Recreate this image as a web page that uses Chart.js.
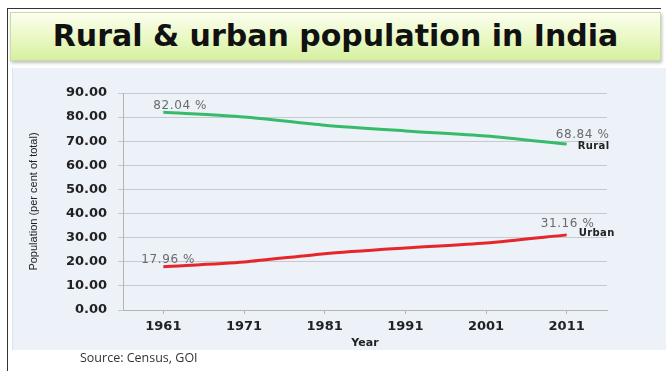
<!DOCTYPE html>
<html lang="en">
<head>
    <meta charset="UTF-8">
    <title>Rural & urban population in India</title>
    <script src="https://cdn.jsdelivr.net/npm/chart.js"></script>
    <style>
        body {
            margin: 0;
            width: 666px;
            height: 371px;
            overflow: hidden;
            background: white;
            position: relative;
            font-family: "DejaVu Sans", sans-serif;
        }

        .frame {
            position: absolute;
            left: 7px;
            top: 8px;
            width: 653px;
            height: 370px;
            border-top: 1px solid #333;
            border-left: 1px solid #333;
        }

        .title-box {
            position: absolute;
            left: 10px;
            top: 12px;
            width: 651px;
            height: 49px;
            box-sizing: border-box;
            border: 1px solid #c9dca6;
            background: linear-gradient(to bottom, #fbfeee 0%, #eaf9c6 50%, #d6f09f 100%);
            box-shadow: 1px 2px 3px rgba(0, 0, 0, 0.25);
            text-align: center;
            font-weight: bold;
            font-size: 30px;
            line-height: 46px;
            color: #111;
        }

        .panel {
            position: absolute;
            left: 12px;
            top: 68px;
            width: 654px;
            height: 282px;
            background: #edf2f9;
            border-left: 1px solid #dde3ec;
        }

        .source {
            position: absolute;
            left: 80px;
            top: 349px;
            font-family: "Open Sans", sans-serif;
            font-size: 12.5px;
            color: #333;
        }
    </style>
</head>

<body>
    <div class="frame"></div>
    <div class="title-box">Rural &amp; urban population in India</div>
    <div class="panel"><canvas id="popChart" width="654" height="282"></canvas></div>
    <div class="source">Source: Census, GOI</div>

    <script>
        // census years
        const years = ["1961", "1971", "1981", "1991", "2001", "2011"];
        // share of population, per cent of total
        const ruralShare = [82.04, 80.09, 76.66, 74.29, 72.19, 68.84];
        const urbanShare = [17.96, 19.91, 23.34, 25.71, 27.81, 31.16];
        const yTicks = [0, 10, 20, 30, 40, 50, 60, 70, 80, 90];

        // writes the first/last value above the line and the series name at its end
        const endLabels = {
            id: "endLabels",
            afterDatasetsDraw(chart) {
                const ctx = chart.ctx;
                chart.data.datasets.forEach((ds, i) => {
                    const pts = chart.getDatasetMeta(i).data;
                    const first = pts[0];
                    const last = pts[pts.length - 1];
                    const vals = ds.data;
                    const off = ds.labelOffsets;

                    ctx.save();
                    ctx.textBaseline = "middle";
                    ctx.textAlign = "left";
                    ctx.fillStyle = "#6a6a6a";
                    ctx.font = "12px 'DejaVu Sans'";
                    ctx.letterSpacing = "0.6px";
                    ctx.fillText(vals[0].toFixed(2) + " %", first.x + off.first[0], first.y + off.first[1]);
                    ctx.fillText(vals[vals.length - 1].toFixed(2) + " %", last.x + off.last[0], last.y + off.last[1]);

                    ctx.letterSpacing = "0.4px";
                    ctx.fillStyle = "#222";
                    ctx.font = "bold 10px 'DejaVu Sans'";
                    ctx.fillText(ds.label, last.x + off.name[0], last.y + off.name[1]);
                    ctx.restore();
                });
            }
        };

        new Chart(document.getElementById("popChart"), {
            type: "line",
            data: {
                labels: years,
                datasets: [
                    {
                        label: "Rural",
                        data: ruralShare,
                        borderColor: "#35bb6a",
                        borderWidth: 3,
                        pointRadius: 0,
                        tension: 0.25,
                        labelOffsets: { first: [-10, -6], last: [-11, -9], name: [11, 2] }
                    },
                    {
                        label: "Urban",
                        data: urbanShare,
                        borderColor: "#e5262b",
                        borderWidth: 3,
                        pointRadius: 0,
                        tension: 0.25,
                        labelOffsets: { first: [-22, -7], last: [-26, -11], name: [12, -1] }
                    }
                ]
            },
            options: {
                responsive: false,
                animation: false,
                layout: { padding: { top: 25, right: 60, left: 0, bottom: 0 } },
                plugins: {
                    legend: { display: false },
                    tooltip: { enabled: false }
                },
                scales: {
                    x: {
                        offset: true,
                        grid: {
                            drawOnChartArea: false,
                            drawTicks: true,
                            tickLength: 4,
                            color: "#b5b5b5"
                        },
                        border: { color: "#b5b5b5", width: 1 },
                        ticks: {
                            color: "#222",
                            padding: 5,
                            font: { family: "DejaVu Sans", weight: "bold", size: 13 }
                        },
                        title: {
                            display: true,
                            text: "Year",
                            color: "#222",
                            padding: { top: 0, bottom: 0 },
                            font: { family: "DejaVu Sans", weight: "bold", size: 11 }
                        },
                        afterFit(scale) { scale.height = 40; }
                    },
                    y: {
                        min: 0,
                        max: 90,
                        afterBuildTicks(scale) {
                            scale.ticks = yTicks.map(v => ({ value: v }));
                        },
                        grid: {
                            color: "#c6c9cf",
                            lineWidth: 1,
                            tickLength: 5
                        },
                        border: { color: "#b5b5b5", width: 1 },
                        ticks: {
                            color: "#222",
                            padding: 11,
                            font: { family: "DejaVu Sans", weight: "bold", size: 13 },
                            callback: v => v.toFixed(2)
                        },
                        title: {
                            display: true,
                            text: "Population (per cent of total)",
                            color: "#222",
                            padding: { top: 14, bottom: 0 },
                            font: { family: "Liberation Sans", size: 11 }
                        },
                        afterFit(scale) { scale.width = 110; }
                    }
                }
            },
            plugins: [endLabels]
        });
    </script>
</body>
</html>
